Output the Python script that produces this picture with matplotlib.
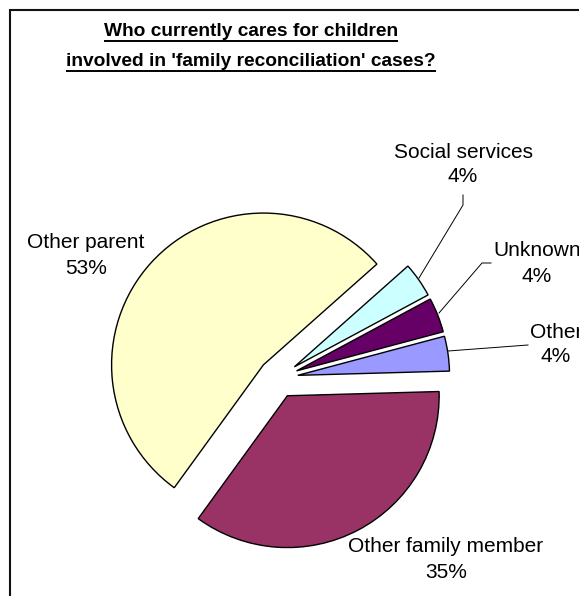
import numpy as np
import matplotlib
matplotlib.use('Agg')
import matplotlib.pyplot as plt
from matplotlib.patches import Rectangle

W, H = 579, 596

# slice data, counterclockwise from the right-hand side
names = ['Other', 'Unknown', 'Social services', 'Other parent',
         'Other family member']
shares = [3.7, 3.7, 3.7, 53.4, 35.4]
colors = ['#9999FF', '#660066', '#CCFFFF', '#FFFFCC', '#993366']

title_lines = ['Who currently cares for children',
               "involved in 'family reconciliation' cases?"]

plt.rcParams['font.family'] = ['Liberation Sans', 'DejaVu Sans']


def Y(y):
    # image rows (top down) -> data y (bottom up)
    return H - y


fig = plt.figure(figsize=(W / 100, H / 100), dpi=100)
ax = fig.add_axes([0, 0, 1, 1])

# explode is in data units here (axes are in pixels)
wedges, _ = ax.pie(shares,
                   colors=colors,
                   explode=[19.85] * len(shares),
                   radius=151.8,
                   center=(278.1, Y(378.2)),
                   startangle=1.6,
                   counterclock=True,
                   wedgeprops=dict(edgecolor='black', linewidth=1.0))
ax.set_xlim(0, W)
ax.set_ylim(0, H)
ax.set_aspect('equal')
ax.axis('off')

# chart frame (cut by the picture at right and bottom)
ax.add_patch(Rectangle((9.5, Y(700)), 700, 690.5, fill=False,
                       edgecolor='#111111', linewidth=1.5, zorder=0))

# labels: (x, y of name, y of percent) in image pixels
label_pos = {
    'Other parent': (86, 242, 268),
    'Other family member': (446, 547, 573),
    'Social services': (463, 153, 177),
    'Unknown': (537, 250, 276),
    'Other': (556, 332, 357),
}
for name, v in zip(names, shares):
    x, y1, y2 = label_pos[name]
    ax.text(x, Y(y1), name, ha='center', va='center', fontsize=15,
            color='black')
    ax.text(x, Y(y2), '%d%%' % int(round(v)), ha='center', va='center',
            fontsize=15, color='black')

# leader lines
leaders = [
    [(419, 278), (463, 205), (463, 195)],
    [(439, 313), (482, 263), (491, 263)],
    [(448, 351), (528, 345)],
]
for pts in leaders:
    xs = [p[0] for p in pts]
    ys = [Y(p[1]) for p in pts]
    ax.plot(xs, ys, color='black', linewidth=0.7)

# title, underlined
tt = []
for i, line in enumerate(title_lines):
    t = ax.text(251, Y(36 + 29.5 * i), line, ha='center', va='baseline',
                fontsize=13.8, fontweight='bold', color='black')
    tt.append(t)

fig.canvas.draw()
for i, t in enumerate(tt):
    bb = t.get_window_extent()
    uy = Y(41 + 29.5 * i)
    ax.plot([bb.x0, bb.x1], [uy, uy], color='black', linewidth=1.4,
            solid_capstyle='butt')

fig.savefig('out.png', dpi=100)
